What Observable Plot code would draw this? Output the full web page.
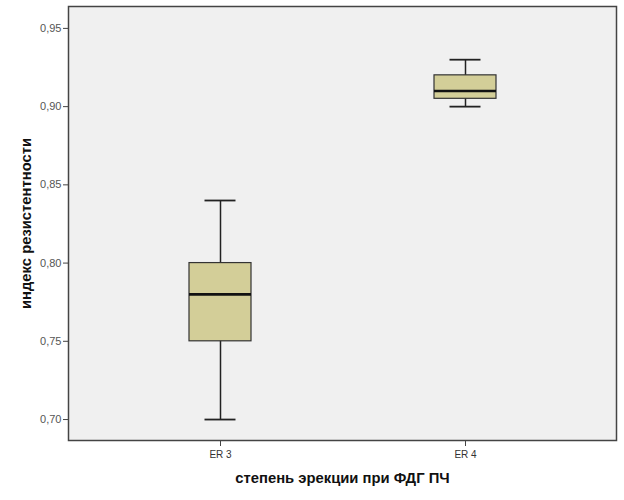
<!DOCTYPE html>
<html>
<head>
<meta charset="utf-8">
<script src="https://cdn.jsdelivr.net/npm/d3@7"></script>
<script src="https://cdn.jsdelivr.net/npm/@observablehq/plot@0.6"></script>
<style>
  html, body { margin: 0; padding: 0; background: #fff; }
  #chart svg { font-family: "Liberation Sans", Arial, sans-serif; }
  #chart [aria-label="y-axis tick label"] text { fill: #555; font-size: 11px; }
  #chart [aria-label="x-axis tick label"] text { fill: #333; font-size: 10px; }
  #chart [aria-label="y-axis label"] text,
  #chart [aria-label="x-axis label"] text { font-weight: bold; font-size: 14.8px; fill: #111; }
</style>
</head>
<body>
<div id="chart"></div>
<script>
const categories = ["ER 3", "ER 4"];
const mins    = [0.70, 0.90];
const q1s     = [0.75, 0.905];
const medians = [0.78, 0.91];
const q3s     = [0.80, 0.92];
const maxs    = [0.84, 0.93];
const yTicks  = [0.70, 0.75, 0.80, 0.85, 0.90, 0.95];
const xLabel = "степень эрекции при ФДГ ПЧ";
const yLabel = "индекс резистентности";

const data = categories.map((c, i) => ({
  cat: c, min: mins[i], q1: q1s[i], median: medians[i], q3: q3s[i], max: maxs[i]
}));

const fmt = d => d.toFixed(2).replace(".", ",");

const chart = Plot.plot({
  width: 624,
  height: 500,
  marginTop: 6,
  marginBottom: 60,
  marginLeft: 68,
  marginRight: 8,
  style: { background: "#fff", fontFamily: "Liberation Sans, Arial, sans-serif" },
  x: { type: "band", domain: categories, paddingInner: 0.748, paddingOuter: 0.488 },
  y: { domain: [0.6866, 0.964] },
  marks: [
    Plot.frame({ fill: "#f0f0f0" }),
    Plot.ruleX(data, { x: "cat", y1: "min", y2: "max", stroke: "#222", strokeWidth: 1.5 }),
    Plot.tickY(data, { x: "cat", y: "min", insetLeft: 15.5, insetRight: 15.5, stroke: "#222", strokeWidth: 1.8 }),
    Plot.tickY(data, { x: "cat", y: "max", insetLeft: 15.5, insetRight: 15.5, stroke: "#222", strokeWidth: 1.8 }),
    Plot.barY(data, { x: "cat", y1: "q1", y2: "q3", fill: "#d3ce98", stroke: "#333", strokeWidth: 1.2 }),
    Plot.tickY(data, { x: "cat", y: "median", stroke: "#111", strokeWidth: 2.6 }),
    Plot.frame({ stroke: "#444", strokeWidth: 1.5 }),
    Plot.axisY({ ticks: yTicks, tickFormat: fmt, tickSize: 5, tickPadding: 2, stroke: "#444",
      label: yLabel, labelAnchor: "center", labelArrow: "none", labelOffset: 48 }),
    Plot.axisX({ tickSize: 6, tickPadding: 4, stroke: "#444",
      label: xLabel, labelAnchor: "center", labelArrow: "none", labelOffset: 42 })
  ]
});
document.getElementById("chart").appendChild(chart);
</script>
</body>
</html>
